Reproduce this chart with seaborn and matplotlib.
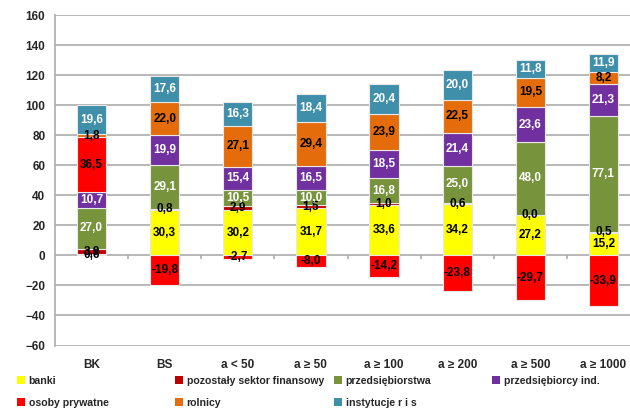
import numpy as np
import pandas as pd
import matplotlib
matplotlib.use("Agg")
import matplotlib.pyplot as plt
from matplotlib.patches import Patch
import seaborn as sns

categories = ["BK", "BS", "a < 50", "a \u2265 50", "a \u2265 100", "a \u2265 200", "a \u2265 500", "a \u2265 1000"]

series_names = ["banki", "pozostały sektor finansowy", "przedsiębiorstwa", "przedsiębiorcy ind.",
                "osoby prywatne", "rolnicy", "instytucje r i s"]

banki = [0.6, 30.3, 30.2, 31.7, 33.6, 34.2, 27.2, 15.2]
pozostaly = [3.9, 0.8, 2.9, 1.5, 1.0, 0.6, 0.0, 0.5]
przedsiebiorstwa = [27.0, 29.1, 10.5, 10.0, 16.8, 25.0, 48.0, 77.1]
przedsiebiorcy = [10.7, 19.9, 15.4, 16.5, 18.5, 21.4, 23.6, 21.3]
osoby = [36.5, -19.8, -2.7, -8.0, -14.2, -23.8, -29.7, -33.9]
rolnicy = [1.8, 22.0, 27.1, 29.4, 23.9, 22.5, 19.5, 8.2]
instytucje = [19.6, 17.6, 16.3, 18.4, 20.4, 20.0, 11.8, 11.9]

colors = ["#FFFF00", "#C00000", "#77933C", "#7030A0", "#FF0000", "#E46C0A", "#3F8FAA"]
label_colors = ["black", "black", "white", "white", "black", "black", "white"]

values = [banki, pozostaly, przedsiebiorstwa, przedsiebiorcy, osoby, rolnicy, instytucje]

sns.set_style("white")
plt.rcParams["font.family"] = ["Liberation Sans", "DejaVu Sans"]
plt.rcParams["font.weight"] = "bold"

fig = plt.figure(figsize=(6.3, 4.12), dpi=100)
ax = fig.add_axes([55 / 630, 66.5 / 412, 585 / 630, 330.5 / 412])

pos_bottom = np.zeros(len(categories))
neg_bottom = np.zeros(len(categories))

for name, vals, col, lcol in zip(series_names, values, colors, label_colors):
    vals = np.array(vals)
    bottom = np.where(vals >= 0, pos_bottom, neg_bottom)
    df = pd.DataFrame({"cat": categories, "val": vals})
    sns.barplot(data=df, x="cat", y="val", order=categories, color=col, width=0.4, saturation=1,
                bottom=bottom, edgecolor="#E8E8E8", linewidth=0.8, ax=ax, zorder=3)
    for i, v in enumerate(vals):
        ax.text(i, bottom[i] + v / 2, f"{v:.1f}".replace(".", ","), ha="center", va="center",
                fontsize=8.5, fontweight="bold", color=lcol, zorder=5)
    pos_bottom = pos_bottom + np.where(vals >= 0, vals, 0)
    neg_bottom = neg_bottom + np.where(vals < 0, vals, 0)

ax.set_ylim(-60, 160)
ax.set_xlim(-0.5, len(categories) - 0.5)
ax.set_yticks(np.arange(-60, 161, 20))
ax.yaxis.grid(True, color="#ABABAB", linewidth=1.2, zorder=0)
ax.set_axisbelow(True)
for s in ["top", "right", "bottom"]:
    ax.spines[s].set_visible(False)
ax.spines["left"].set_color("#ABABAB")
ax.spines["left"].set_linewidth(1.2)
ax.tick_params(axis="y", length=4, color="#ABABAB", width=1.2, labelsize=8.5, pad=3)
ax.tick_params(axis="x", length=0, labelsize=8.5, pad=10)
for t in ax.get_xticklabels() + ax.get_yticklabels():
    t.set_fontweight("bold")
ax.set_xlabel("")
ax.set_ylabel("")

# tick marks between categories on the zero line
ax.vlines(np.arange(0.5, len(categories)), -2.7, 0, color="#ABABAB", linewidth=1.2, zorder=2)

# legend, one block per column
handles = [Patch(facecolor=c, edgecolor="none") for c in colors]
columns = [[0, 4], [1, 5], [2, 6], [3]]
col_x = [17, 175, 334, 492]
for xs, idx in zip(col_x, columns):
    fig.legend([handles[i] for i in idx], [series_names[i] for i in idx],
               loc="upper left", bbox_to_anchor=(xs / 630, 1 - 376 / 412),
               frameon=False, prop={"weight": "bold", "size": 7.6},
               handlelength=0.75, handleheight=0.75, handletextpad=0.35,
               labelspacing=1.1, borderaxespad=0, borderpad=0)

fig.savefig("out.png", dpi=100)
